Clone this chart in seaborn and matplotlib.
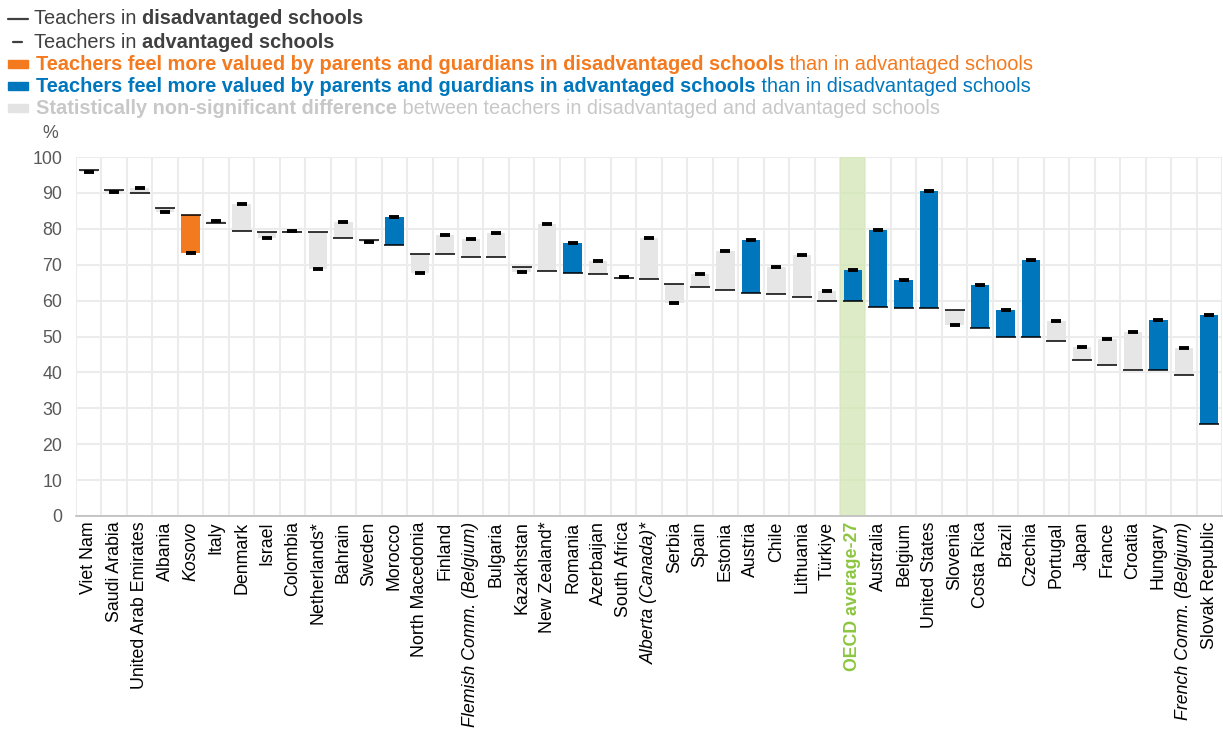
import numpy as np
import pandas as pd
import matplotlib
matplotlib.use('Agg')
import matplotlib.pyplot as plt
import seaborn as sns
from matplotlib.lines import Line2D
from matplotlib.patches import Rectangle
from matplotlib import font_manager

# Daten
countries = ['Viet Nam', 'Saudi Arabia', 'United Arab Emirates', 'Albania', 'Kosovo', 'Italy',
             'Denmark', 'Israel', 'Colombia', 'Netherlands*', 'Bahrain', 'Sweden', 'Morocco',
             'North Macedonia', 'Finland', 'Flemish Comm. (Belgium)', 'Bulgaria', 'Kazakhstan',
             'New Zealand*', 'Romania', 'Azerbaijan', 'South Africa', 'Alberta (Canada)*', 'Serbia',
             'Spain', 'Estonia', 'Austria', 'Chile', 'Lithuania', 'Türkiye', 'OECD average-27',
             'Australia', 'Belgium', 'United States', 'Slovenia', 'Costa Rica', 'Brazil', 'Czechia',
             'Portugal', 'Japan', 'France', 'Croatia', 'Hungary', 'French Comm. (Belgium)',
             'Slovak Republic']
disadvantaged = [96.3, 90.9, 89.9, 85.7, 83.8, 81.5, 79.5, 79.2, 79.2, 79.1, 77.5, 77.0, 75.5,
                 73.1, 72.9, 72.1, 72.1, 69.3, 68.2, 67.8, 67.5, 66.4, 65.9, 64.5, 63.9, 63.0,
                 62.1, 61.8, 61.1, 59.9, 59.8, 58.1, 57.9, 57.8, 57.3, 52.4, 49.9, 49.9, 48.7,
                 43.5, 42.2, 40.6, 40.6, 39.3, 25.6]
advantaged = [95.7, 90.3, 91.3, 84.7, 73.3, 82.3, 86.8, 77.3, 79.3, 68.9, 82.0, 76.3, 83.3,
              67.8, 78.3, 77.2, 78.9, 68.0, 81.2, 76.0, 71.0, 66.5, 77.5, 59.3, 67.5, 73.9,
              76.9, 69.4, 72.7, 62.6, 68.4, 79.7, 65.6, 90.5, 53.3, 64.3, 57.3, 71.2, 54.4,
              47.0, 49.3, 51.3, 54.6, 46.7, 55.9]
# 'dis' = hoeher in benachteiligten Schulen, 'adv' = hoeher in beguenstigten, 'ns' = nicht signifikant
significance = ['ns', 'ns', 'ns', 'ns', 'dis', 'ns', 'ns', 'ns', 'ns', 'ns', 'ns', 'ns', 'adv',
                'ns', 'ns', 'ns', 'ns', 'ns', 'ns', 'adv', 'ns', 'ns', 'ns', 'ns', 'ns', 'ns',
                'adv', 'ns', 'ns', 'ns', 'adv', 'adv', 'adv', 'adv', 'ns', 'adv', 'adv', 'adv',
                'ns', 'ns', 'ns', 'ns', 'adv', 'ns', 'adv']
italic_labels = ['Kosovo', 'Flemish Comm. (Belgium)', 'Alberta (Canada)*', 'French Comm. (Belgium)']

ORANGE = '#f47a20'
BLUE = '#0077bd'
GREY = '#e6e6e6'
GREEN = '#8cc63f'
colors = {'dis': ORANGE, 'adv': BLUE, 'ns': GREY}

df = pd.DataFrame({'country': countries, 'disadv': disadvantaged, 'adv': advantaged, 'sig': significance})
df['low'] = df[['disadv', 'adv']].min(axis=1)
df['high'] = df[['disadv', 'adv']].max(axis=1)

sns.set_theme(style='white')
available = {f.name for f in font_manager.fontManager.ttflist}
narrow = 'Liberation Sans Narrow' in available
plt.rcParams['font.family'] = ['Liberation Sans Narrow' if narrow else 'Liberation Sans', 'DejaVu Sans']

W, H = 1223, 729
fig = plt.figure(figsize=(W / 100, H / 100), dpi=100)
ax = fig.add_axes([76 / W, 1 - 516 / H, (1222 - 76) / W, (516 - 157) / H])

sns.barplot(data=df, x='country', y='high', color=GREY, width=0.72, saturation=1, ax=ax, zorder=2)
for patch, (_, row) in zip(ax.patches, df.iterrows()):
    patch.set_y(row['low'])
    patch.set_height(row['high'] - row['low'])
    patch.set_facecolor(colors[row['sig']])
    patch.set_edgecolor('none')

sns.scatterplot(data=df, x='country', y='disadv', marker='_', s=200, color='black',
                linewidth=1.1, ax=ax, zorder=4)
sns.scatterplot(data=df, x='country', y='adv', marker='_', s=55, color='black',
                linewidth=2.8, ax=ax, zorder=5)

oecd = countries.index('OECD average-27')
ax.axvspan(oecd - 0.5, oecd + 0.5, color='#cfe5ae', alpha=0.7, zorder=1, lw=0)

ax.set_xlim(-0.5, len(countries) - 0.5)
ax.set_ylim(0, 100)
ax.set_yticks(range(0, 101, 10))
ax.set_xticks(range(len(countries)))
ax.set_xticks(np.arange(-0.5, len(countries), 1), minor=True)
ax.grid(axis='y', which='major', color='#ececec', lw=1.5, zorder=0)
ax.grid(axis='x', which='minor', color='#ececec', lw=1.5, zorder=0)
ax.grid(axis='x', which='major', visible=False)
ax.set_axisbelow(True)
for s in ['top', 'right', 'left']:
    ax.spines[s].set_visible(False)
ax.spines['bottom'].set_color('#bfbfbf')
ax.tick_params(axis='both', which='both', length=0)
fs = 14 if narrow else 12.8
ax.tick_params(axis='y', labelsize=fs, labelcolor='#595959', pad=10)
ax.set_xticklabels(countries, rotation=90, fontsize=fs, color='black')
for lab in ax.get_xticklabels():
    if lab.get_text() in italic_labels:
        lab.set_style('italic')
    if lab.get_text() == 'OECD average-27':
        lab.set_color(GREEN)
        lab.set_weight('bold')
ax.tick_params(axis='x', pad=4)
ax.set_xlabel('')
ax.set_ylabel('')
fig.text(50 / W, 1 - 133 / H, '%', ha='center', va='center', fontsize=fs, color='#595959')

# Legende aus Textstuecken
renderer = fig.canvas.get_renderer()
lfs = 15.5 if narrow else 14.4


def legend_line(y, parts, x0=34):
    x = x0
    for txt, weight, col in parts:
        t = fig.text(x / W, 1 - y / H, txt, ha='left', va='center', fontsize=lfs,
                     fontweight=weight, color=col)
        x = t.get_window_extent(renderer).x1


dark = '#404040'
legend_line(19, [('Teachers in ', 'normal', dark), ('disadvantaged schools', 'bold', dark)])
legend_line(42, [('Teachers in ', 'normal', dark), ('advantaged schools', 'bold', dark)])
legend_line(64, [('Teachers feel more valued by parents and guardians in disadvantaged schools', 'bold', ORANGE),
                 (' than in advantaged schools', 'normal', ORANGE)], 36)
legend_line(86, [('Teachers feel more valued by parents and guardians in advantaged schools', 'bold', BLUE),
                 (' than in disadvantaged schools', 'normal', BLUE)], 36)
legend_line(108, [('Statistically non-significant difference', 'bold', '#c8c8c8'),
                  (' between teachers in disadvantaged and advantaged schools', 'normal', '#c8c8c8')], 36)

fig.add_artist(Line2D([8 / W, 28 / W], [1 - 19 / H, 1 - 19 / H], color=dark, lw=1.6, transform=fig.transFigure))
fig.add_artist(Line2D([13 / W, 22 / W], [1 - 42 / H, 1 - 42 / H], color=dark, lw=1.6, transform=fig.transFigure))
for y, c in [(64, ORANGE), (86, BLUE), (108, '#e3e3e3')]:
    fig.add_artist(Rectangle((8 / W, 1 - (y + 3.5) / H), 20 / W, 7 / H, color=c, transform=fig.transFigure))

fig.savefig('out.png', dpi=100)
